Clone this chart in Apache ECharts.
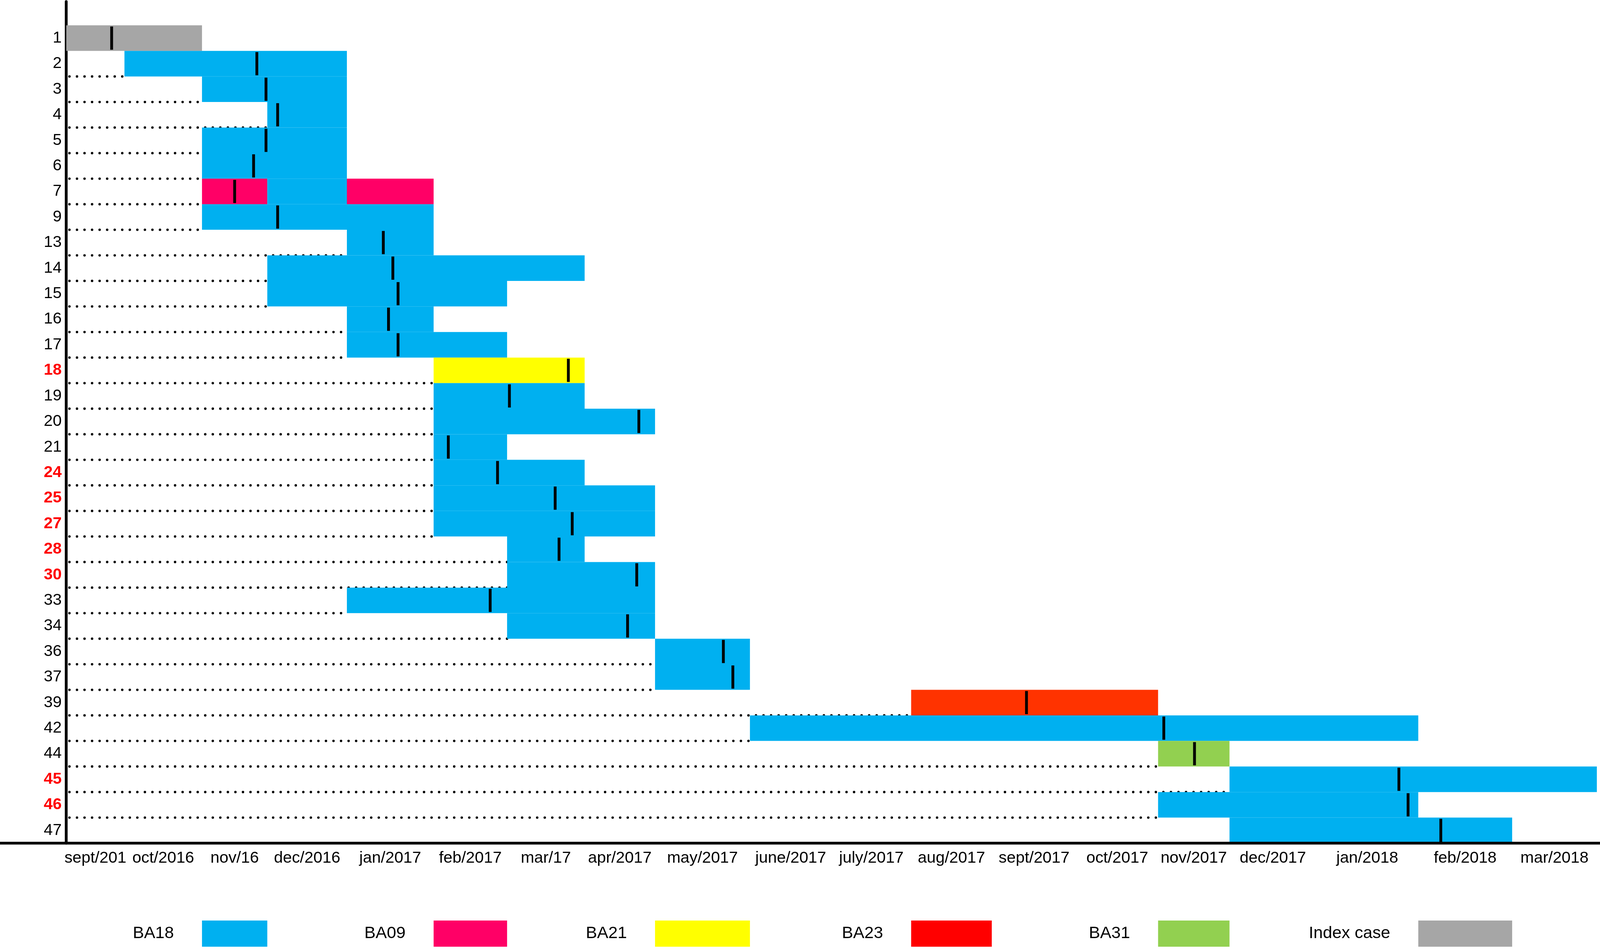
<!DOCTYPE html>
<html><head><meta charset="utf-8">
<script src="https://cdn.jsdelivr.net/npm/echarts@6/dist/echarts.min.js"></script>
<style>html,body{margin:0;padding:0;background:#fff;overflow:hidden}#c{width:100vw;height:100vh}</style>
</head><body><div id="c"></div>
<script>
// ---- data ----
const months = ['sept/201','oct/2016','nov/16','dec/2016','jan/2017','feb/2017','mar/17','apr/2017','may/2017','june/2017','july/2017','aug/2017','sept/2017','oct/2017','nov/2017','dec/2017','jan/2018','feb/2018','mar/2018'];
// relative width of each month column on the original's time scale
const monthSpan = [57,76,64,78,85,72,76,69,93,80,78,79,83,80,70,85,100,92,83];
const rowLabels = ['1','2','3','4','5','6','7','9','13','14','15','16','17','18','19','20','21','24','25','27','28','30','33','34','36','37','39','42','44','45','46','47'];
const redLabels = ['18','24','25','27','28','30','45','46'];
// colonisation segments (month units, 0 = start of sept 2016)
const segRow    = [0,1,2,3,4,5,6,6,6,7,8,9,10,11,12,13,14,15,16,17,18,19,20,21,22,23,24,25,26,27,28,29,30,31];
const segStart  = [0,1,2,3,2,2,2,3,4,2,4,3,3,4,4,5,5,5,5,5,5,5,6,6,4,6,8,8,11,9,14,15,14,15];
const segEnd    = [2,4,4,4,4,4,3,4,5,5,5,7,6,5,6,7,7,8,6,7,8,8,7,8,8,8,9,9,14,17,15,19,17,18];
const segStrain = ['Index case','BA18','BA18','BA18','BA18','BA18','BA09','BA18','BA09','BA18','BA18','BA18','BA18','BA18','BA18','BA21','BA18','BA18','BA18','BA18','BA18','BA18','BA18','BA18','BA18','BA18','BA18','BA18','BA23','BA18','BA31','BA18','BA18','BA18'];
// sampling date marker per row (month units)
const sampleMonth = [0.78,2.84,2.98,3.13,2.98,2.79,2.50,3.13,4.42,4.53,4.59,4.48,4.59,6.79,6.03,7.77,5.20,5.87,6.62,6.84,6.67,7.74,5.77,7.61,8.72,8.82,12.41,14.08,14.51,16.81,16.90,17.24];
const strains = ['BA18','BA09','BA21','BA23','BA31','Index case'];
const legendMonth = [2,5,8,11,14,17];

// ---- styles ----
const strainColor = {'BA18':'#00B0F0','BA09':'#FF0066','BA21':'#FFFF00','BA23':'#FF3300','BA31':'#92D050','Index case':'#A6A6A6'};
const legendColor = {'BA18':'#00B0F0','BA09':'#FF0066','BA21':'#FFFF00','BA23':'#FF0000','BA31':'#92D050','Index case':'#A6A6A6'};
const FONT = "'Liberation Sans', Arial, sans-serif";

const el = document.getElementById('c');
const W = el.clientWidth, H = el.clientHeight;
const SX = W / 4562, SY = H / 2434, S = Math.min(SX, SY);

// month units -> column units of the uneven scale
const cum = [0];
monthSpan.forEach((w,i)=>cum.push(cum[i]+w));
const TOTAL = cum[cum.length-1];
function toCol(m){
  if (m >= monthSpan.length) return TOTAL;
  const i = Math.floor(m);
  return cum[i] + (m - i) * monthSpan[i];
}
const monthCenters = months.map((_,i)=>cum[i] + monthSpan[i]/2);

const rowStart = rowLabels.map((_,r)=>{
  let s = Infinity;
  segRow.forEach((rr,k)=>{ if (rr===r) s = Math.min(s, segStart[k]); });
  return s;
});

const segData = segRow.map((r,k)=>[r, segStart[k], segEnd[k], strains.indexOf(segStrain[k])]);
const dotData = [];
rowLabels.forEach((_,r)=>{ if (r>0 && r<rowLabels.length-1 && rowStart[r]>0) dotData.push([r, rowStart[r]]); });
const markData = sampleMonth.map((m,r)=>[r, m]);
const legendData = strains.map((s,k)=>[k, legendMonth[k]]);

const chart = echarts.init(el, null, {renderer:'canvas'});
const option = {
  backgroundColor:'#fff',
  animation:false,
  grid:[
    {left:189*SX, right:9*SX, top:4*SY, bottom:276*SY, outerBoundsMode:'none', containLabel:false},
    {left:189*SX, right:9*SX, top:2356*SY, height:67*SY, outerBoundsMode:'none', containLabel:false}
  ],
  xAxis:[
    {type:'value', gridIndex:0, min:0, max:TOTAL,
     axisLine:{show:false}, axisTick:{show:false}, splitLine:{show:false},
     axisLabel:{customValues:monthCenters, margin:18*SY, fontSize:46*S, fontFamily:FONT, color:'#000',
       formatter:(v)=>{ let best=0,d=Infinity; monthCenters.forEach((c,i)=>{ if (Math.abs(c-v)<d){d=Math.abs(c-v);best=i;} }); return months[best]; }}},
    {type:'value', gridIndex:1, min:0, max:TOTAL, show:false}
  ],
  yAxis:[
    {type:'value', gridIndex:0, inverse:true, min:-0.93, max:rowLabels.length, offset:5*SX,
     axisLine:{show:true, lineStyle:{color:'#000', width:8*S}}, axisTick:{show:false}, splitLine:{show:false},
     axisLabel:{customValues:rowLabels.map((_,i)=>i+0.5), margin:8*SX, fontSize:46*S, fontFamily:FONT,
       formatter:(v)=>{ const t = rowLabels[Math.floor(v)]; return redLabels.includes(t) ? '{r|'+t+'}' : '{k|'+t+'}'; },
       rich:{k:{color:'#000', fontSize:46*S, fontFamily:FONT}, r:{color:'#FF0000', fontSize:46*S, fontWeight:'bold', fontFamily:FONT}}}},
    {type:'value', gridIndex:1, min:0, max:1, show:false}
  ],
  series:[
    {type:'custom', name:'baseline', xAxisIndex:0, yAxisIndex:0, z:1, data:dotData, silent:true,
     renderItem:(params, api)=>{
       const r = api.value(0), s = api.value(1);
       const a = api.coord([0, r+1]), b = api.coord([toCol(s), r+1]);
       return {type:'line', shape:{x1:a[0]+9*SX, y1:a[1], x2:b[0], y2:b[1]},
               style:{stroke:'#000', lineWidth:7*S, lineDash:[0.01, 21.5*S], lineCap:'round'}};
     }},
    {type:'custom', name:'colonisation', xAxisIndex:0, yAxisIndex:0, z:2, data:segData,
     renderItem:(params, api)=>{
       const r = api.value(0);
       const a = api.coord([toCol(api.value(1)), r]);
       const b = api.coord([toCol(api.value(2)), r+1]);
       return {type:'rect', shape:{x:a[0], y:a[1], width:b[0]-a[0], height:b[1]-a[1]},
               style:{fill:strainColor[strains[api.value(3)]]}};
     }},
    {type:'custom', name:'sample', xAxisIndex:0, yAxisIndex:0, z:3, data:markData,
     renderItem:(params, api)=>{
       const r = api.value(0);
       const a = api.coord([toCol(api.value(1)), r]);
       const b = api.coord([toCol(api.value(1)), r+1]);
       return {type:'rect', shape:{x:a[0]-4*SX, y:a[1]+3*SY, width:8*SX, height:b[1]-a[1]-6*SY}, style:{fill:'#000'}};
     }},
    {type:'custom', name:'legend', xAxisIndex:1, yAxisIndex:1, z:3, data:legendData,
     renderItem:(params, api)=>{
       const k = api.value(0), m = api.value(1);
       const a = api.coord([toCol(m), 1]), b = api.coord([toCol(m+1), 0]);
       return {type:'group', children:[
         {type:'rect', shape:{x:a[0], y:a[1], width:b[0]-a[0], height:b[1]-a[1]}, style:{fill:legendColor[strains[k]]}},
         {type:'text', style:{text:strains[k], x:a[0]-80*SX, y:(a[1]+b[1])/2, align:'right', verticalAlign:'middle',
            fontSize:48*S, fontFamily:FONT, fill:'#000'}}
       ]};
     }}
  ]
};
chart.setOption(option);
const yAx = chart.convertToPixel({yAxisIndex:0}, rowLabels.length);
chart.setOption({graphic:[{type:'line', z:20, shape:{x1:0, y1:yAx, x2:W, y2:yAx}, style:{stroke:'#000', lineWidth:8*S}}]});
</script></body></html>
